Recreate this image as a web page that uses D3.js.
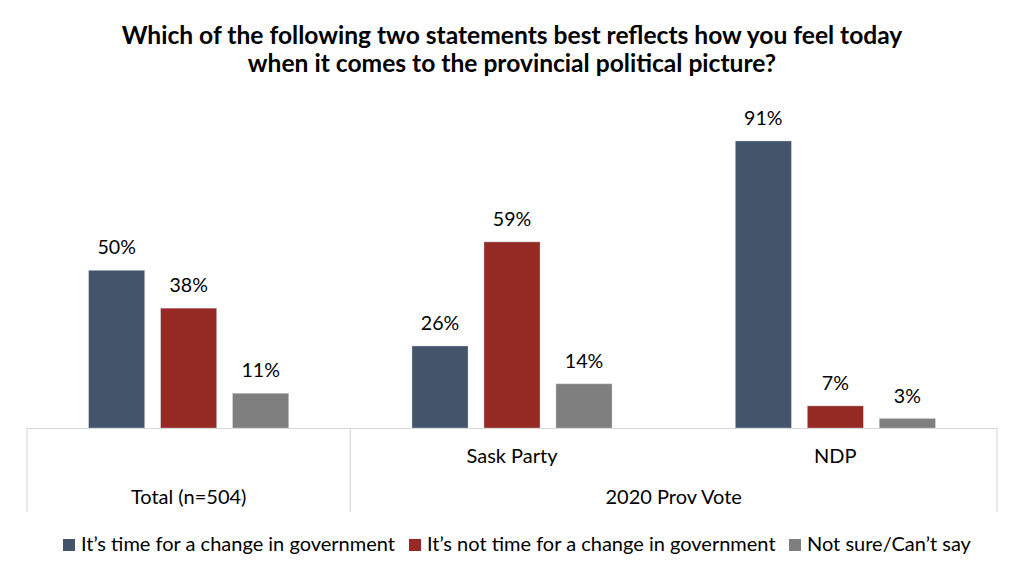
<!DOCTYPE html>
<html>
<head>
<meta charset="utf-8">
<script src="https://cdn.jsdelivr.net/npm/d3@7"></script>
<style>
  html, body { margin: 0; padding: 0; background: #fff; }
  svg { display: block; }
  text { font-family: Lato, "Open Sans", sans-serif; fill: #000; }
</style>
</head>
<body>
<svg id="chart" width="1024" height="579"></svg>
<script>
const titleLines = ["Which of the following two statements best reflects how you feel today",
                    "when it comes to the provincial political picture?"];
const categories = ["Total (n=504)", "Sask Party", "NDP"];
const groupLabels = [{label: "Total (n=504)", from: 0, to: 0},
                     {label: "2020 Prov Vote", from: 1, to: 2}];
const subLabels = ["", "Sask Party", "NDP"];
const seriesNames = ["It\u2019s time for a change in government",
                     "It\u2019s not time for a change in government",
                     "Not sure/Can\u2019t say"];
const seriesColors = ["#44546A", "#952923", "#7F7F7F"];
const changeValues = [50, 26, 91];
const notTimeValues = [38, 59, 7];
const notSureValues = [11, 14, 3];
const seriesValues = [changeValues, notTimeValues, notSureValues];

const svg = d3.select("#chart");
const plotLeft = 27, plotRight = 997, baseY = 428;

svg.append("g").selectAll("text").data(titleLines).join("text")
  .attr("x", 512).attr("y", (d, i) => 44 + i * 28)
  .attr("text-anchor", "middle")
  .attr("font-weight", "bold")
  .attr("font-size", 24.6)
  .text(d => d);

const x0 = d3.scaleBand().domain(d3.range(categories.length)).range([plotLeft, plotRight]);
const x1 = d3.scaleBand().domain(d3.range(seriesNames.length)).range([-100, 100]).paddingInner(0.222).paddingOuter(0);
const y = d3.scaleLinear().domain([0, 91]).range([baseY, 141]);

const bars = [];
seriesValues.forEach((vals, s) => vals.forEach((v, c) => bars.push({s, c, v})));

const cx = d => x0(d.c) + x0.bandwidth() / 2;
const gBars = svg.append("g");
gBars.selectAll("rect").data(bars).join("rect")
  .attr("x", d => cx(d) + x1(d.s))
  .attr("y", d => y(d.v))
  .attr("width", x1.bandwidth())
  .attr("height", d => baseY - y(d.v))
  .attr("fill", d => seriesColors[d.s])
  .attr("stroke", "#c9ced6").attr("stroke-width", 0.6).attr("stroke-opacity", 0.7);

gBars.selectAll("text").data(bars).join("text")
  .attr("x", d => cx(d) + x1(d.s) + x1.bandwidth() / 2)
  .attr("y", d => y(d.v) - 16)
  .attr("text-anchor", "middle")
  .attr("font-size", 19.6)
  .text(d => d.v + "%");

// category axis
const axisG = svg.append("g").attr("stroke", "#d9d9d9").attr("stroke-width", 1.2);
axisG.append("line").attr("x1", plotLeft).attr("x2", plotRight).attr("y1", baseY + 0.5).attr("y2", baseY + 0.5);
const dividers = [x0(0), x0(1), x0(2) + x0.bandwidth()];
axisG.selectAll("line.div").data(dividers).join("line").attr("class", "div")
  .attr("x1", d => d).attr("x2", d => d).attr("y1", baseY).attr("y2", 512);

svg.append("g").selectAll("text").data(subLabels).join("text")
  .attr("x", (d, i) => x0(i) + x0.bandwidth() / 2)
  .attr("y", 463)
  .attr("text-anchor", "middle")
  .attr("font-size", 20)
  .text(d => d);

svg.append("g").selectAll("text").data(groupLabels).join("text")
  .attr("x", d => (x0(d.from) + x0(d.to) + x0.bandwidth()) / 2)
  .attr("y", 504)
  .attr("text-anchor", "middle")
  .attr("font-size", 20)
  .text(d => d.label);

// legend
const legendX = [63, 409, 789];
const lg = svg.append("g").selectAll("g").data(seriesNames).join("g")
  .attr("transform", (d, i) => `translate(${legendX[i]},539)`);
lg.append("rect").attr("width", 12).attr("height", 12).attr("fill", (d, i) => seriesColors[i]);
lg.append("text").attr("x", 18).attr("y", 11.5).attr("font-size", 20).text(d => d);
</script>
</body>
</html>
